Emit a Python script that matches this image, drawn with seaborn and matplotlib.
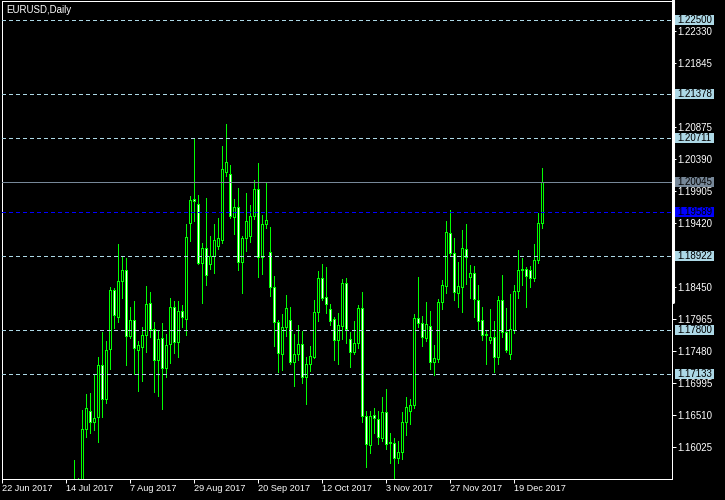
import numpy as np
import pandas as pd
import matplotlib
matplotlib.use("Agg")
import matplotlib.pyplot as plt
import matplotlib.transforms as mtransforms
from matplotlib.patches import Rectangle
from matplotlib.lines import Line2D
import seaborn as sns

# ---------------- data ----------------
chart_title = "EURUSD,Daily"
session_start = "2017-06-22"
session_end = "2017-12-29"
holidays = ["2017-12-25"]
first_visible = "2017-07-18"

open_px = [
    1.1477, 1.1551, 1.1515, 1.16299, 1.16582, 1.16415, 1.16481, 1.17269, 1.16754, 1.17522,
    1.18411, 1.18007, 1.18542, 1.18709, 1.17719, 1.17951, 1.17496, 1.17552, 1.17724, 1.18209,
    1.17815, 1.17345, 1.17678, 1.17223, 1.17587, 1.18148, 1.17618, 1.18088, 1.17976, 1.19421,
    1.19785, 1.19709, 1.18825, 1.19042, 1.18810, 1.18931, 1.19082, 1.19163, 1.20204, 1.20164,
    1.19522, 1.19664, 1.18840, 1.19194, 1.19234, 1.19532, 1.19936, 1.18916, 1.19406, 1.18981,
    1.18461, 1.17920, 1.17445, 1.17855, 1.17951, 1.17324, 1.17435, 1.17587, 1.17097, 1.17294,
    1.17400, 1.18072, 1.18588, 1.18300, 1.18118, 1.17966, 1.17658, 1.17870, 1.18512, 1.17663,
    1.17476, 1.17603, 1.18133, 1.16506, 1.16056, 1.16511, 1.16450, 1.16173, 1.16557, 1.16102,
    1.16087, 1.15859, 1.15950, 1.16405, 1.16577, 1.16663, 1.17987, 1.17906, 1.17688, 1.17860,
    1.17324, 1.17364, 1.18223, 1.18476, 1.19269, 1.18966, 1.18360, 1.18461, 1.19027, 1.18612,
    1.18663, 1.18254, 1.17950, 1.17748, 1.17647, 1.17693, 1.17400, 1.18254, 1.17774, 1.17435,
    1.17804, 1.18390, 1.18708, 1.18724, 1.18708, 1.18587, 1.18860, 1.19421,
]
high_px = [
    1.15834, 1.15565, 1.16592, 1.16834, 1.16845, 1.17123, 1.17390, 1.17769, 1.17638, 1.18451,
    1.18436, 1.19108, 1.18916, 1.18891, 1.18148, 1.18244, 1.17638, 1.17850, 1.18472, 1.18381,
    1.17926, 1.17805, 1.17911, 1.17744, 1.18290, 1.18244, 1.18244, 1.18179, 1.19411, 1.19835,
    1.20699, 1.19850, 1.19118, 1.19805, 1.19229, 1.19411, 1.19502, 1.20593, 1.20927, 1.20305,
    1.19790, 1.19957, 1.19229, 1.19881, 1.19699, 1.20078, 1.20336, 1.19542, 1.20048, 1.19365,
    1.18623, 1.17951, 1.18047, 1.18335, 1.18153, 1.17743, 1.17880, 1.17794, 1.17400, 1.17562,
    1.18259, 1.18699, 1.18805, 1.18760, 1.18199, 1.18007, 1.18067, 1.18578, 1.18593, 1.17779,
    1.17941, 1.18184, 1.18386, 1.16577, 1.16577, 1.16617, 1.16572, 1.16794, 1.16915, 1.16243,
    1.16162, 1.16122, 1.16562, 1.16789, 1.16759, 1.18047, 1.18613, 1.18017, 1.18228, 1.18092,
    1.17577, 1.18269, 1.18562, 1.19456, 1.19623, 1.19194, 1.18835, 1.19320, 1.19411, 1.18789,
    1.18774, 1.18486, 1.18153, 1.17789, 1.18122, 1.17940, 1.18324, 1.18633, 1.18137, 1.18350,
    1.18486, 1.19017, 1.18895, 1.18759, 1.18774, 1.19108, 1.19583, 1.20260,
]
low_px = [
    1.1476, 1.1500, 1.1479, 1.16188, 1.16248, 1.16289, 1.16112, 1.16491, 1.16703, 1.17218,
    1.17840, 1.17931, 1.18295, 1.17274, 1.17678, 1.17133, 1.16885, 1.17037, 1.17476, 1.17693,
    1.16870, 1.16809, 1.16612, 1.17087, 1.17309, 1.17451, 1.17400, 1.17845, 1.17724, 1.19158,
    1.19461, 1.18805, 1.18218, 1.18491, 1.18734, 1.18673, 1.19027, 1.19128, 1.20144, 1.19497,
    1.19264, 1.18719, 1.18370, 1.19007, 1.19143, 1.19482, 1.18612, 1.18653, 1.19355, 1.18325,
    1.17567, 1.17172, 1.17203, 1.17718, 1.17294, 1.16960, 1.17349, 1.16996, 1.16683, 1.17188,
    1.17385, 1.17941, 1.18259, 1.18057, 1.17880, 1.17350, 1.17289, 1.17673, 1.17613, 1.17249,
    1.17436, 1.17527, 1.16405, 1.15733, 1.15935, 1.16243, 1.16077, 1.16122, 1.16001, 1.15794,
    1.15546, 1.15794, 1.15854, 1.16218, 1.16375, 1.16617, 1.17845, 1.17562, 1.17637, 1.17213,
    1.17122, 1.17324, 1.18122, 1.18360, 1.18941, 1.18259, 1.18158, 1.18082, 1.18501, 1.18294,
    1.18006, 1.17804, 1.17652, 1.17294, 1.17612, 1.17167, 1.17289, 1.17703, 1.17465, 1.17364,
    1.17764, 1.18284, 1.18486, 1.18158, 1.18461, 1.18552, 1.18820, 1.19350,
]
close_px = [
    1.1551, 1.1515, 1.16299, 1.16617, 1.16415, 1.16466, 1.17269, 1.16754, 1.17501, 1.18406,
    1.18027, 1.18542, 1.18709, 1.17719, 1.17951, 1.17527, 1.17572, 1.17724, 1.18194, 1.17815,
    1.17345, 1.17663, 1.17223, 1.17572, 1.18148, 1.17618, 1.18088, 1.17997, 1.19209, 1.19775,
    1.19765, 1.18815, 1.19042, 1.18633, 1.18931, 1.19168, 1.19194, 1.20240, 1.20346, 1.19532,
    1.19664, 1.18840, 1.19194, 1.19456, 1.19532, 1.19941, 1.18916, 1.19406, 1.19466, 1.18461,
    1.17920, 1.17450, 1.17855, 1.18132, 1.17324, 1.17440, 1.17587, 1.17097, 1.17284, 1.17411,
    1.18072, 1.18588, 1.18295, 1.18194, 1.17946, 1.17658, 1.17880, 1.18512, 1.17815, 1.17476,
    1.17603, 1.18133, 1.16506, 1.16072, 1.16506, 1.16466, 1.16178, 1.16557, 1.16072, 1.16087,
    1.15859, 1.15950, 1.16405, 1.16632, 1.16663, 1.17987, 1.17906, 1.17694, 1.17890, 1.17324,
    1.17374, 1.18223, 1.18481, 1.19284, 1.18976, 1.18375, 1.18466, 1.19042, 1.18916, 1.18663,
    1.18269, 1.17945, 1.17723, 1.17723, 1.17693, 1.17400, 1.18259, 1.17774, 1.17501, 1.17814,
    1.18390, 1.18708, 1.18729, 1.18628, 1.18587, 1.18865, 1.19421, 1.20045,
]

dashed_levels = [1.22500, 1.21378, 1.20711, 1.18922, 1.17800, 1.17133]
bid_level = 1.20045
blue_level = 1.19589
price_ticks = [1.22330, 1.21845, 1.21360, 1.20875, 1.20390, 1.19905, 1.19420,
               1.18935, 1.18450, 1.17965, 1.17480, 1.16995, 1.16510, 1.16025]
hidden_price_labels = [1.21360, 1.18935]
date_tick_labels = ["22 Jun 2017", "14 Jul 2017", "7 Aug 2017", "29 Aug 2017",
                    "20 Sep 2017", "12 Oct 2017", "3 Nov 2017", "27 Nov 2017",
                    "19 Dec 2017"]

# ---------------- style ----------------
sns.set_theme(style="dark", rc={
    "axes.facecolor": "black",
    "figure.facecolor": "black",
    "axes.edgecolor": "white",
    "axes.grid": False,
    "xtick.color": "white",
    "ytick.color": "white",
    "text.color": "white",
})
plt.rcParams["font.family"] = ["Liberation Sans", "DejaVu Sans"]
plt.rcParams["lines.scale_dashes"] = False

GREEN = "#00FF00"
LIGHTBLUE = "#ADD8E6"
W, H = 725, 500
PX = 0.72  # one pixel in points at dpi 100

fig = plt.figure(figsize=(W / 100, H / 100), dpi=100, facecolor="black")
ax = fig.add_axes([2 / W, 21 / H, 670 / W, 478 / H])
ax.set_facecolor("black")

# dates / x positions
full = pd.bdate_range(session_start, session_end)
full = full[~full.isin(pd.to_datetime(holidays))]
pos = np.arange(len(full))
vis_mask = full >= pd.Timestamp(first_visible)
x = pos[vis_mask]
o, h, l, c = (np.asarray(a, float) for a in (open_px, high_px, low_px, close_px))
assert len(x) == len(o) == len(h) == len(l) == len(c)

# candles
ax.vlines(x, l, h, colors=GREEN, linewidth=PX, zorder=2, antialiased=False)
faces = np.where(c > o, "black", "white")
ax.bar(x, np.abs(c - o), bottom=np.minimum(o, c), width=0.5, color=faces,
       edgecolor=GREEN, linewidth=PX, zorder=3, antialiased=False)

ylim = (1.15545, 1.22792)
ax.set_ylim(*ylim)
x0 = x[0]
ax.set_xlim(x0 - 72.3 / 4, x0 + 597.7 / 4)

# horizontal levels
for lvl in dashed_levels:
    ax.axhline(lvl, color=LIGHTBLUE, linewidth=PX, linestyle=(0, (2.2, 2.2)),
               zorder=4, antialiased=False)
ax.axhline(bid_level, color="#778899", linewidth=PX, zorder=4, antialiased=False)
ax.axhline(blue_level, color="#0000FF", linewidth=PX, linestyle=(0, (2.2, 2.2)),
           zorder=4, antialiased=False)

# right price axis
ax.yaxis.tick_right()
ax.set_yticks(price_ticks)
ax.set_yticklabels(["" if v in hidden_price_labels else f"{v:.5f}" for v in price_ticks])
ax.tick_params(axis="y", colors="white", length=4 * PX, width=PX, pad=1.2,
               labelsize=7, right=True, left=False)

# bottom date axis
tick_pos = [pos[full.get_loc(pd.to_datetime(s, format="%d %b %Y"))] for s in date_tick_labels]
ax.set_xticks(tick_pos)
ax.set_xticklabels(date_tick_labels, ha="left")
ax.tick_params(axis="x", colors="white", length=4 * PX, width=PX, pad=0.5,
               labelsize=6.6, bottom=True)

for sp in ax.spines.values():
    sp.set_color("white")
    sp.set_linewidth(PX)
    sp.set_visible(True)
ax.grid(False)

# price label boxes on the right
trans = mtransforms.blended_transform_factory(fig.transFigure, ax.transData)
box_h = (ylim[1] - ylim[0]) / 478 * 10
boxes = [(lvl, LIGHTBLUE, "black") for lvl in dashed_levels]
boxes += [(bid_level, "#778899", "black"), (blue_level, "#0000FF", "black")]
for lvl, face, tc in boxes:
    ax.add_patch(Rectangle((675 / W, lvl - box_h / 2), 39 / W, box_h, transform=trans,
                           facecolor=face, edgecolor="none", clip_on=False, zorder=10))
    ax.text(677.5 / W, lvl, f"{lvl:.5f}", transform=trans, ha="left", va="center",
            fontsize=7, color=tc, clip_on=False, zorder=11)

# thick segment on right border
fig.add_artist(Line2D([673 / W, 673 / W], [1.0, 1 - 302 / H], color="white",
                      linewidth=2.2, transform=fig.transFigure))

# title
fig.text(6 / W, 1 - 10 / H, chart_title, color="white", fontsize=7,
         ha="left", va="center")

fig.savefig("out.png", dpi=100, facecolor="black")
